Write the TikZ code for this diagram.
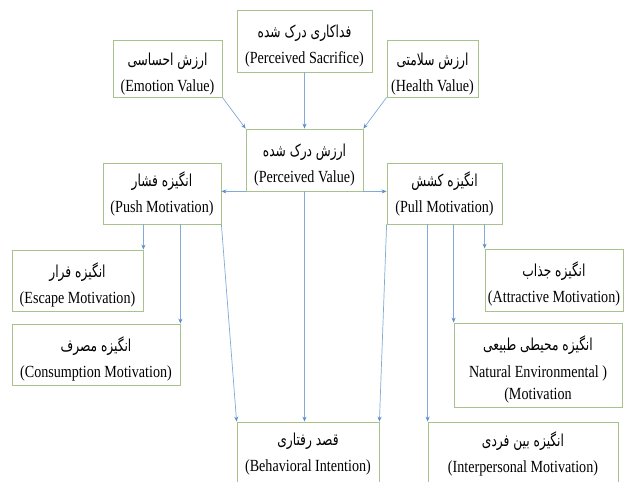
\documentclass[tikz,border=0pt]{standalone}
\usepackage{fontspec}
\setmainfont[FakeStretch=0.83]{Liberation Serif}
\newfontfamily\fa[Script=Arabic,FakeStretch=0.74]{DejaVu Sans}
\TeXXeTstate=1
\usetikzlibrary{arrows.meta}
\definecolor{boxgreen}{HTML}{A9C28C}
\definecolor{arrowblue}{HTML}{82AAD6}
\definecolor{tipblue}{HTML}{5E90C8}
\newcommand{\fatxt}[1]{{\rule{0pt}{23pt}\fa\fontsize{16.5}{18}\selectfont\beginR #1\endR}}
\newcommand{\fatxtb}[1]{{\fa\fontsize{16.5}{18}\selectfont\beginR #1\endR}}
\tikzset{
  boxnode/.style={draw=boxgreen, line width=0.8pt, fill=white, align=center,
    inner sep=0pt, font=\fontsize{17}{26}\selectfont},
  conn/.style={draw=arrowblue, line width=0.7pt,
    -{Stealth[length=5pt,width=4pt,color=tipblue]}}
}
\begin{document}
\begin{tikzpicture}[x=1pt,y=-1pt]
\useasboundingbox[fill=white] (0,0) rectangle (632,482);
\node[boxnode, minimum width=135pt, minimum height=62pt] (sac) at (304.5,41) {\fatxt{فداکاری درک شده}\\(Perceived Sacrifice)};
\node[boxnode, minimum width=109pt, minimum height=57pt] (emo) at (167.5,68.5) {\fatxt{ارزش احساسی}\\(Emotion Value)};
\node[boxnode, minimum width=91pt, minimum height=57pt] (hea) at (432.5,68.5) {\fatxt{ارزش سلامتی}\\(Health Value)};
\node[boxnode, minimum width=117pt, minimum height=62pt] (pv) at (304.5,160) {\fatxt{ارزش درک شده}\\(Perceived Value)};
\node[boxnode, minimum width=118pt, minimum height=61pt] (push) at (162,193.5) {\fatxtb{انگیزه فشار}\\(Push Motivation)};
\node[boxnode, minimum width=115pt, minimum height=61pt] (pull) at (444.5,193.5) {\fatxtb{انگیزه کشش}\\(Pull Motivation)};
\node[boxnode, minimum width=131pt, minimum height=61pt] (esc) at (77.5,280.5) {\fatxt{انگیزه فرار}\\(Escape Motivation)};
\node[boxnode, minimum width=168pt, minimum height=61pt] (con) at (96,354.5) {\fatxt{انگیزه مصرف}\\(Consumption Motivation)};
\node[boxnode, minimum width=138pt, minimum height=62pt] (att) at (554,280) {\fatxt{انگیزه جذاب}\\(Attractive Motivation)};
\node[boxnode, minimum width=168pt, minimum height=84pt, font=\fontsize{17}{22}\selectfont] (nat) at (538,365) {\fatxt{انگیزه محیطی طبیعی}\\[5pt]Natural Environmental )\\(Motivation};
\node[boxnode, minimum width=142pt, minimum height=64pt] (bi) at (308,454) {\fatxtb{قصد رفتاری}\\(Behavioral Intention)};
\node[boxnode, minimum width=190pt, minimum height=64pt] (inter) at (523,454) {\fatxtb{انگیزه بین فردی}\\(Interpersonal Motivation)};
% connectors
\draw[conn] (emo.south east) -- (pv.north west);
\draw[conn] (sac.south) -- (pv.north);
\draw[conn] (hea.south west) -- (pv.north east);
\draw[conn] (pv.south west) -- (pv.south west -| push.east);
\draw[conn] (pv.south east) -- (pv.south east -| pull.west);
\draw[conn] (pv.south) -- (pv.south |- bi.north);
\draw[conn] (push.south -| esc.north east) -- (esc.north east);
\draw[conn] (push.south -| con.north east) -- (con.north east);
\draw[conn] (push.south east) -- (bi.north west);
\draw[conn] (pull.south west) -- (bi.north east);
\draw[conn] (pull.south -| inter.north west) -- (inter.north west);
\draw[conn] (pull.south -| nat.north west) -- (nat.north west);
\draw[conn] (pull.south -| att.north west) -- (att.north west);
\end{tikzpicture}
\end{document}
